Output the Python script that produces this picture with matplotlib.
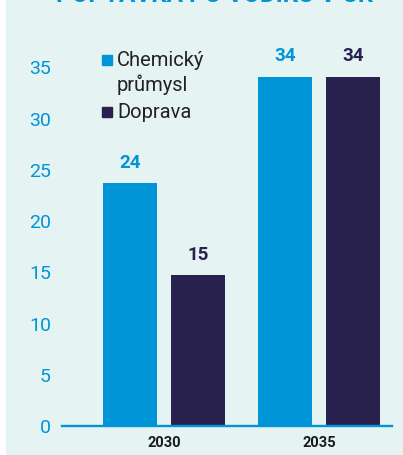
import matplotlib
matplotlib.use('Agg')
import numpy as np
from matplotlib import pyplot as plt
from matplotlib.patches import Rectangle

# data
years = ['2030', '2035']
chem = [23.7, 34.1]      # Chemický průmysl
doprava = [14.7, 34.1]   # Doprava
series_names = ['Chemický\nprůmysl', 'Doprava']
yticks = [0, 5, 10, 15, 20, 25, 30, 35]
title = 'POPTÁVKA PO VODÍKU V ČR'

BLUE = '#0095d6'
DARK = '#29224f'
BG = '#e6f3f3'

W, H = 403, 455
plt.rcParams['font.family'] = ['Roboto', 'DejaVu Sans']

fig = plt.figure(figsize=(W / 100, H / 100), dpi=100)
fig.patch.set_facecolor('white')

def fx(px):
    return px / W

def fy(py):
    return 1 - py / H

# panel background
fig.patches.append(Rectangle((fx(6), fy(454)), fx(397), 454 / H,
                             transform=fig.transFigure, color=BG, zorder=-5))

# title, cut off at the top edge like in the source
fig.text(fx(215), fy(2.5), title, ha='center', va='baseline', color=BLUE,
         fontsize=17.5, fontweight='bold')

ax = fig.add_axes([fx(62), fy(426), fx(330), (426 - 67.3) / H])
ax.set_facecolor('none')
ax.set_zorder(2)

x = np.arange(len(years))
w = 0.348
off = 0.219
b1 = ax.bar(x - off, chem, w, color=BLUE)
b2 = ax.bar(x + off, doprava, w, color=DARK)

for bars, col in [(b1, BLUE), (b2, DARK)]:
    for r in bars:
        ax.annotate('{:.0f}'.format(r.get_height()),
                    (r.get_x() + r.get_width() / 2, r.get_height()),
                    xytext=(0, 8), textcoords='offset points',
                    ha='center', va='bottom', color=col,
                    fontsize=13.5, fontweight='bold', annotation_clip=False)

ax.set_xlim(-0.658, 1.471)
ax.set_ylim(0, 35)
ax.set_yticks(yticks)
ax.set_yticklabels([str(t) for t in yticks], color=BLUE, fontsize=14)
ax.set_xticks(x)
ax.set_xticklabels(years, fontsize=10.5, fontweight='bold', color='#1a1a1a')
ax.tick_params(axis='both', length=0)
ax.tick_params(axis='y', pad=8)
ax.tick_params(axis='x', pad=7)

for s in ['top', 'right', 'left']:
    ax.spines[s].set_visible(False)
ax.spines['bottom'].set_color(BLUE)
ax.spines['bottom'].set_linewidth(1.7)

# legend, drawn by hand so the square sits on the first line
leg_rows = [(series_names[0], BLUE, 60), (series_names[1], DARK, 112)]
for name, col, py in leg_rows:
    fig.patches.append(Rectangle((fx(101.7), fy(py + 5)), fx(10), 10 / H,
                                 transform=fig.transFigure, color=col, zorder=3))
    fig.text(fx(117), fy(py - 9), name, ha='left', va='top', color='#222222',
             fontsize=14.5, linespacing=1.25)

fig.savefig('out.png', dpi=100)
